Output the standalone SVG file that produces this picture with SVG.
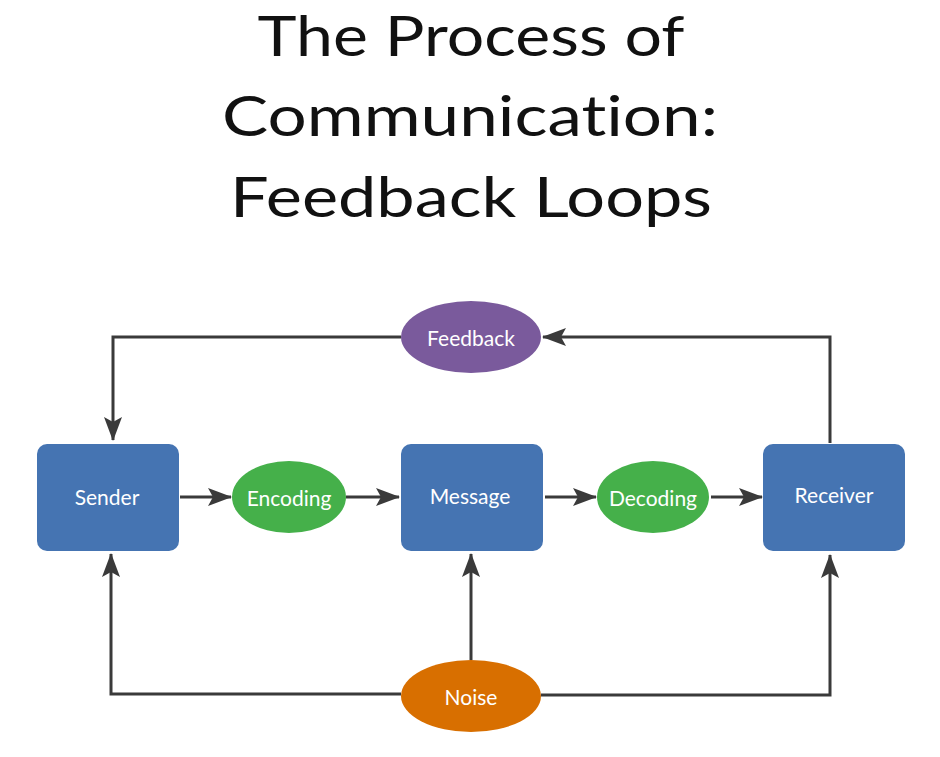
<svg xmlns="http://www.w3.org/2000/svg" width="940" height="757" viewBox="0 0 940 757">
<style>
.title{font-family:Lato,"Open Sans",sans-serif;font-weight:400;font-size:56px;fill:#111;text-anchor:middle;font-variant-ligatures:none}
.box{fill:#4574b2}
.lbl{font-family:Lato,"Open Sans",sans-serif;font-size:21px;fill:#fff;text-anchor:middle;dominant-baseline:central}
.ln{fill:none;stroke:#3a3a3a;stroke-width:3}
</style>
<defs>
<marker id="ah" viewBox="0 0 24 18" refX="23" refY="9" markerWidth="24" markerHeight="18" markerUnits="userSpaceOnUse" orient="auto">
<path d="M0,0 L24,9 L0,18 L5,9 Z" fill="#3a3a3a"/>
</marker>
</defs>
<rect width="940" height="757" fill="#fff"/>
<g id="title">
<text class="title" x="471" y="56" textLength="427" lengthAdjust="spacingAndGlyphs">The Process of</text>
<text class="title" x="470" y="136" textLength="496" lengthAdjust="spacingAndGlyphs">Communication:</text>
<text class="title" x="471" y="217" textLength="482" lengthAdjust="spacingAndGlyphs">Feedback Loops</text>
</g>
<g id="connectors">
<path class="ln" d="M401,337 H113 V440" marker-end="url(#ah)"/>
<path class="ln" d="M830,443 V337 H543" marker-end="url(#ah)"/>
<path class="ln" d="M180,497 H231" marker-end="url(#ah)"/>
<path class="ln" d="M346,497 H399" marker-end="url(#ah)"/>
<path class="ln" d="M545,497 H596" marker-end="url(#ah)"/>
<path class="ln" d="M711,497 H762" marker-end="url(#ah)"/>
<path class="ln" d="M401,694 H111 V554" marker-end="url(#ah)"/>
<path class="ln" d="M471,660 V554" marker-end="url(#ah)"/>
<path class="ln" d="M541,695 H830 V555" marker-end="url(#ah)"/>
</g>
<g id="sender"><rect class="box" x="37" y="444" width="142" height="107" rx="10"/><text class="lbl" x="107" y="496">Sender</text></g>
<g id="message"><rect class="box" x="401" y="444" width="142" height="107" rx="10"/><text class="lbl" x="470" y="495">Message</text></g>
<g id="receiver"><rect class="box" x="763" y="444" width="142" height="107" rx="10"/><text class="lbl" x="834" y="494">Receiver</text></g>
<g id="encoding"><ellipse cx="289" cy="497" rx="57" ry="36" fill="#45b04a"/><text class="lbl" x="289" y="497">Encoding</text></g>
<g id="decoding"><ellipse cx="653" cy="497" rx="56" ry="36" fill="#45b04a"/><text class="lbl" x="653" y="497">Decoding</text></g>
<g id="feedback"><ellipse cx="471" cy="337" rx="70" ry="36" fill="#7a5a9c"/><text class="lbl" x="471" y="337">Feedback</text></g>
<g id="noise"><ellipse cx="471" cy="696" rx="70" ry="36" fill="#d86f00"/><text class="lbl" x="471" y="696">Noise</text></g>
</svg>
